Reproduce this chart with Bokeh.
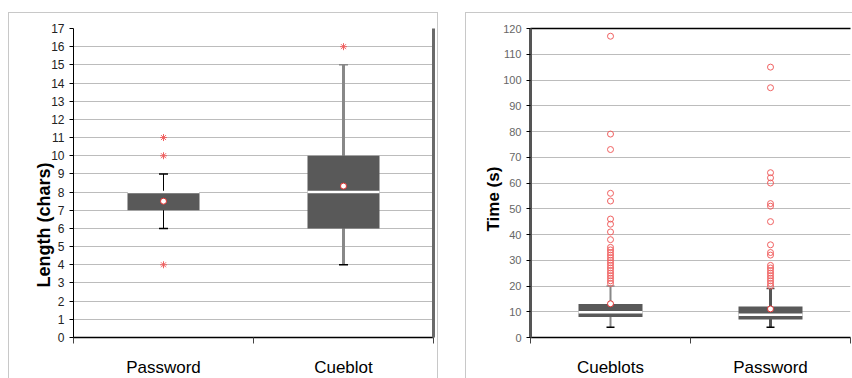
from bokeh.plotting import figure
from bokeh.models import (ColumnDataSource, Range1d, FixedTicker, LinearAxis, Title)
from bokeh.layouts import row
from bokeh.embed import file_html
from bokeh.resources import INLINE

# ---------------- data ----------------
len_cats = ["Password", "Cueblot"]
len_q1 = [7, 6]
len_med = [8, 8]
len_q3 = [8, 10]
len_lo = [6, 4]
len_hi = [9, 15]
len_mean = [7.5, 8.33]
len_out_cat = ["Password", "Password", "Password", "Cueblot"]
len_out_val = [11, 10, 4, 16]
len_ticks = list(range(0, 18))

time_cats = ["Cueblots", "Password"]
time_q1 = [8, 7]
time_med = [9.8, 8.8]
time_q3 = [13, 12]
time_lo = [4, 4]
time_hi = [20, 19]
time_mean = [13.1, 11.1]
time_out_cueblots = [117, 79, 73, 56, 53, 46, 44, 41, 38, 35, 34, 33, 32, 31, 30,
                     29, 28, 27, 26, 25, 24, 23, 22, 21]
time_out_password = [105, 97, 64, 62, 60, 52, 51, 45, 36, 33, 32, 28, 27, 26, 25,
                     24, 23, 22, 21, 20]
time_ticks = list(range(0, 121, 10))

FONT = "Liberation Sans"
BOX_COLOR = "#595959"
GRID = "#bcbcbc"
OUT_RED = "#f06060"
BOX_W = 0.4
CAP_W = 0.025
FIG_H = 366


def make_fig(width, cats, q1, med, q3, lo, hi, mean, wcolors, wwidths, ymax, ticks,
             grid_ticks, tick_font, tick_color, bottom):
    p = figure(width=width, height=FIG_H, output_backend="svg", toolbar_location=None,
               x_range=Range1d(0, len(cats)), y_range=Range1d(0, ymax),
               min_border_left=64, min_border_top=15, min_border_bottom=bottom,
               min_border_right=4)
    p.outline_line_color = None
    p.background_fill_color = "white"
    p.border_fill_color = "white"
    xs = [i + 0.5 for i in range(len(cats))]
    src = ColumnDataSource(dict(
        x=xs, q1=q1, med=med, q3=q3, lo=lo, hi=hi, mean=mean,
        bx0=[x - BOX_W / 2 for x in xs], bx1=[x + BOX_W / 2 for x in xs],
        cx0=[x - CAP_W for x in xs], cx1=[x + CAP_W for x in xs],
        wc=wcolors, ww=wwidths))
    # whiskers
    p.segment(x0="x", x1="x", y0="lo", y1="hi", line_color="wc", line_width="ww", source=src)
    p.segment(x0="cx0", x1="cx1", y0="lo", y1="lo", line_color="black", line_width=1.5, source=src)
    p.segment(x0="cx0", x1="cx1", y0="hi", y1="hi", line_color="wc", line_width=1.5, source=src)
    # box
    p.vbar(x="x", width=BOX_W, bottom="q1", top="q3", fill_color=BOX_COLOR,
           line_color=None, source=src)
    # median
    p.segment(x0="bx0", x1="bx1", y0="med", y1="med", line_color="white", line_width=2.5, source=src)
    # mean
    p.scatter(x="x", y="mean", size=6, marker="circle", fill_color="white",
              line_color="#e03030", line_width=1, source=src)

    # axes
    p.xaxis.ticker = FixedTicker(ticks=xs, minor_ticks=list(range(len(cats) + 1)))
    p.xaxis.major_label_overrides = {x: c for x, c in zip(xs, cats)}
    p.xaxis.major_tick_line_color = None
    p.xaxis.minor_tick_line_color = "#444444"
    p.xaxis.minor_tick_in = 0
    p.xaxis.minor_tick_out = 6
    p.xaxis.axis_line_color = "black"
    p.xaxis.axis_line_width = 1.5
    p.xaxis.major_label_text_font = FONT
    p.xaxis.major_label_text_font_size = "17px"
    p.xaxis.major_label_text_color = "black"
    p.xaxis.major_label_standoff = 14

    p.yaxis.ticker = FixedTicker(ticks=ticks)
    p.yaxis.minor_tick_line_color = None
    p.yaxis.major_tick_in = 0
    p.yaxis.major_tick_out = 4
    p.yaxis.major_tick_line_color = "black"
    p.yaxis.major_label_text_font = FONT
    p.yaxis.major_label_text_font_size = tick_font
    p.yaxis.major_label_text_color = tick_color
    p.yaxis.major_label_standoff = 5

    p.xgrid.grid_line_color = None
    p.ygrid.ticker = FixedTicker(ticks=grid_ticks)
    p.ygrid.grid_line_color = GRID
    p.ygrid.grid_line_width = 1
    return p, xs


# ---------------- left chart ----------------
p1, xs1 = make_fig(430, len_cats, len_q1, len_med, len_q3, len_lo, len_hi, len_mean,
                   ["black", "#888888"], [1, 3], 17, len_ticks, len_ticks[1:-1],
                   "12px", "#222222", 36)
p1.margin = (12, 0, 0, 8)
p1.min_border_right = 6
p1.yaxis.axis_line_color = "black"
p1.yaxis.axis_line_width = 1
out_x1 = [xs1[len_cats.index(c)] for c in len_out_cat]
p1.scatter(x=out_x1, y=len_out_val, marker="asterisk", size=7,
           line_color=OUT_RED, line_width=1)
rax = LinearAxis(major_tick_line_color=None, minor_tick_line_color=None,
                 major_label_text_font_size="0px", axis_line_color="#6a6a6a",
                 axis_line_width=3, ticker=FixedTicker(ticks=[]))
p1.add_layout(rax, "right")
p1.add_layout(Title(text="Length (chars)", align="left", offset=50, standoff=-11,
                    text_font=FONT, text_font_size="18px", text_font_style="bold",
                    text_color="black"), "left")
p1.styles = {"border-top": "1px solid #c8c8c8", "border-left": "1px solid #c8c8c8",
             "border-right": "1px solid #c8c8c8"}

# ---------------- right chart ----------------
p2, xs2 = make_fig(387, time_cats, time_q1, time_med, time_q3, time_lo, time_hi, time_mean,
                   ["#888888", "#555555"], [2, 3], 120, time_ticks, time_ticks[1:-1],
                   "11px", "#666666", 34)
p2.margin = (12, 0, 0, 0)
p2.min_border_right = 3
p2.yaxis.axis_line_color = "#555555"
p2.yaxis.axis_line_width = 3
out_x2 = [xs2[0]] * len(time_out_cueblots) + [xs2[1]] * len(time_out_password)
out_y2 = time_out_cueblots + time_out_password
p2.scatter(x=out_x2, y=out_y2, marker="circle", size=6, fill_color=None,
           line_color=OUT_RED, line_width=1)
tax = LinearAxis(major_tick_line_color=None, minor_tick_line_color=None,
                 major_label_text_font_size="0px", axis_line_color="black",
                 axis_line_width=1.5, ticker=FixedTicker(ticks=[]))
p2.add_layout(tax, "above")
p2.add_layout(Title(text="Time (s)", align="left", offset=106, standoff=-4,
                    text_font=FONT, text_font_size="17px", text_font_style="bold",
                    text_color="black"), "left")
p2.styles = {"border-top": "1px solid #c8c8c8", "border-left": "1px solid #c8c8c8"}

layout = row(p1, p2, spacing=27)
open("out.html", "w").write(file_html(layout, INLINE))
